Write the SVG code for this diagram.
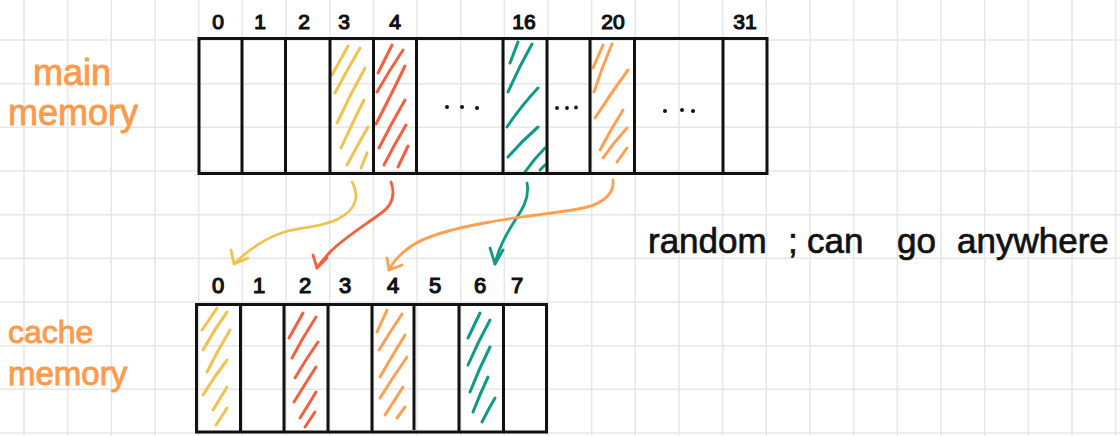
<svg xmlns="http://www.w3.org/2000/svg" width="1120" height="436" viewBox="0 0 1120 436">
  <style>
    .grid { stroke: #e6e6e6; stroke-width: 1.5; fill: none; }
    .box { fill: none; stroke: #111; stroke-width: 3; stroke-linejoin: miter; }
    .div { stroke: #111; stroke-width: 3; }
    .hatch { fill: none; stroke-width: 3; stroke-linecap: round; }
    .yellow { stroke: #f0c24f; }
    .red { stroke: #f4603f; }
    .teal { stroke: #0f9a86; }
    .orange { stroke: #ff9f50; }
    .idx { font-family: "Liberation Sans", Arial, sans-serif; fill: #111; stroke: #111; stroke-width: 1.2; text-anchor: middle; }
    .lbl { font-family: "Liberation Sans", Arial, sans-serif; fill: #ff9a4a; stroke: #ff9a4a; stroke-width: 0.9; }
    .note { font-family: "Liberation Sans", Arial, sans-serif; fill: #111; stroke: #111; stroke-width: 0.7; font-size: 35px; }
    .arrow { fill: none; stroke-width: 2.8; stroke-linecap: round; stroke-linejoin: round; }
    .dot { fill: #111; }
  </style>

  <rect width="1120" height="436" fill="#ffffff"/>

  <!-- squared paper background -->
  <g id="grid" class="grid">
    <path d="M24,0V436 M67.7,0V436 M111.3,0V436 M155,0V436 M198.7,0V436 M242.3,0V436 M286,0V436 M329.7,0V436 M373.3,0V436 M417,0V436 M460.7,0V436 M504.3,0V436 M548,0V436 M591.7,0V436 M635.3,0V436 M679,0V436 M722.7,0V436 M766.3,0V436 M810,0V436 M853.7,0V436 M897.3,0V436 M941,0V436 M984.7,0V436 M1028.3,0V436 M1072,0V436 M1115.7,0V436"/>
    <path d="M0,40H1120 M0,83.7H1120 M0,127.3H1120 M0,171H1120 M0,214.7H1120 M0,258.3H1120 M0,302H1120 M0,345.7H1120 M0,389.3H1120 M0,433H1120"/>
  </g>

  <!-- main memory: 32 blocks, some elided -->
  <g id="main-memory">
    <text class="lbl" font-size="36" x="33" y="85">main</text>
    <text class="lbl" font-size="36" x="8" y="125">memory</text>

    <g font-size="21">
      <text class="idx" x="218" y="28.5">0</text>
      <text class="idx" x="260" y="28.5">1</text>
      <text class="idx" x="304" y="28.5">2</text>
      <text class="idx" x="344" y="28.5">3</text>
      <text class="idx" x="395" y="28.5">4</text>
      <text class="idx" x="524" y="28.5">16</text>
      <text class="idx" x="613" y="28.5">20</text>
      <text class="idx" x="745" y="28.5">31</text>
    </g>

    <g class="hatch yellow">
      <path d="M332,75L348,46"/>
      <path d="M335,93Q347,70 360,48"/>
      <path d="M337,123Q350,95 365,68"/>
      <path d="M341,148Q352,124 364,100"/>
      <path d="M347,165Q357,146 368,127"/>
      <path d="M361,168L367,153"/>
    </g>
    <g class="hatch red">
      <path d="M378,73L392,45"/>
      <path d="M377,92Q389,71 403,50"/>
      <path d="M376,124Q390,97 405,66"/>
      <path d="M379,148Q391,124 405,100"/>
      <path d="M384,165Q394,145 406,125"/>
      <path d="M398,167L408,146"/>
    </g>
    <g class="hatch teal">
      <path d="M510,63L518,42"/>
      <path d="M508,92Q519,67 532,44"/>
      <path d="M507,127Q521,106 538,88"/>
      <path d="M508,157Q522,141 538,127"/>
      <path d="M525,172Q534,159 545,148"/>
      <path d="M540,170L545,165"/>
    </g>
    <g class="hatch orange">
      <path d="M593,68L603,45"/>
      <path d="M594,92Q602,67 612,44"/>
      <path d="M595,118Q611,93 628,70"/>
      <path d="M600,150Q611,129 623,110"/>
      <path d="M603,158Q614,142 627,128"/>
      <path d="M617,162L627,148"/>
    </g>

    <g class="dot">
      <circle cx="447" cy="107" r="2"/>
      <circle cx="462" cy="107" r="2"/>
      <circle cx="477" cy="108" r="2"/>
      <circle cx="557" cy="108" r="1.9"/>
      <circle cx="567" cy="108" r="1.9"/>
      <circle cx="576" cy="107.5" r="1.9"/>
      <circle cx="665" cy="111" r="2"/>
      <circle cx="682" cy="110" r="2"/>
      <circle cx="693" cy="111" r="2"/>
    </g>

    <rect class="box" x="199" y="38.5" width="568" height="135"/>
    <path class="div" d="M242,38.5V173.5 M285.5,38.5V173.5 M330,38.5V173.5 M373.5,38.5V173.5 M416.5,38.5V173.5 M503,38.5V173.5 M547,38.5V173.5 M590,38.5V172 M634.5,38.5V173.5 M723,38.5V173.5"/>
  </g>

  <!-- cache memory: 8 slots -->
  <g id="cache-memory">
    <text class="lbl" font-size="32" x="8" y="343">cache</text>
    <text class="lbl" font-size="33" x="8" y="385">memory</text>

    <g font-size="22">
      <text class="idx" x="218" y="293">0</text>
      <text class="idx" x="259" y="293">1</text>
      <text class="idx" x="305" y="293">2</text>
      <text class="idx" x="345" y="293">3</text>
      <text class="idx" x="393" y="293">4</text>
      <text class="idx" x="435" y="293">5</text>
      <text class="idx" x="480" y="293">6</text>
      <text class="idx" x="517" y="293">7</text>
    </g>

    <g class="hatch yellow">
      <path d="M202,330L217,308"/>
      <path d="M203,350Q214,330 227,312"/>
      <path d="M207,372Q218,350 230,330"/>
      <path d="M203,395Q214,377 227,360"/>
      <path d="M213,410L227,387"/>
      <path d="M216,425L227,408"/>
    </g>
    <g class="hatch red">
      <path d="M289,338L303,313"/>
      <path d="M292,358Q303,337 316,317"/>
      <path d="M295,378Q306,359 318,342"/>
      <path d="M294,402Q305,384 316,367"/>
      <path d="M300,418Q309,404 316,392"/>
      <path d="M305,427L315,412"/>
    </g>
    <g class="hatch orange">
      <path d="M377,332L387,310"/>
      <path d="M379,350Q390,332 402,314"/>
      <path d="M380,377Q392,356 405,335"/>
      <path d="M380,398Q393,377 407,357"/>
      <path d="M385,415Q394,401 403,387"/>
      <path d="M397,418L405,407"/>
    </g>
    <g class="hatch teal">
      <path d="M468,338L480,313"/>
      <path d="M468,365Q478,342 490,320"/>
      <path d="M470,392Q479,369 490,347"/>
      <path d="M473,412Q480,394 488,377"/>
      <path d="M482,422Q488,410 495,398"/>
    </g>

    <rect class="box" x="196.5" y="304.5" width="350" height="127.5"/>
    <path class="div" d="M240.5,304.5V432 M284,304.5V432 M328,304.5V432 M372,304.5V432 M414,304.5V430 M459,304.5V432 M503.5,304.5V432"/>
  </g>

  <!-- block-to-slot mappings -->
  <g id="connectors">
    <g class="arrow yellow">
      <path d="M352,182C360,196 356,210 338,219C322,227 305,227 288,231C268,236 248,250 234,264"/>
      <path d="M231,250L234,264L248,258"/>
    </g>
    <g class="arrow red">
      <path d="M391,182C396,196 392,206 380,214C365,225 345,237 330,252C325,258 320,263 317,268"/>
      <path d="M313,255L317,268L327,258"/>
    </g>
    <g class="arrow teal">
      <path d="M527,183C530,198 522,210 514,222C505,236 498,250 495,264"/>
      <path d="M490,248L495,264L503,250"/>
    </g>
    <g class="arrow orange">
      <path d="M613,180C615,197 597,206 578,209C550,214 520,216 490,222C455,228 425,236 410,247C400,254 393,262 389,270"/>
      <path d="M387,258L389,270L402,265"/>
    </g>
  </g>

  <g id="note">
    <text class="note" y="253"><tspan x="648">random</tspan><tspan x="788">;</tspan><tspan x="807">can</tspan><tspan x="897">go</tspan><tspan x="957">anywhere</tspan></text>
  </g>
</svg>
